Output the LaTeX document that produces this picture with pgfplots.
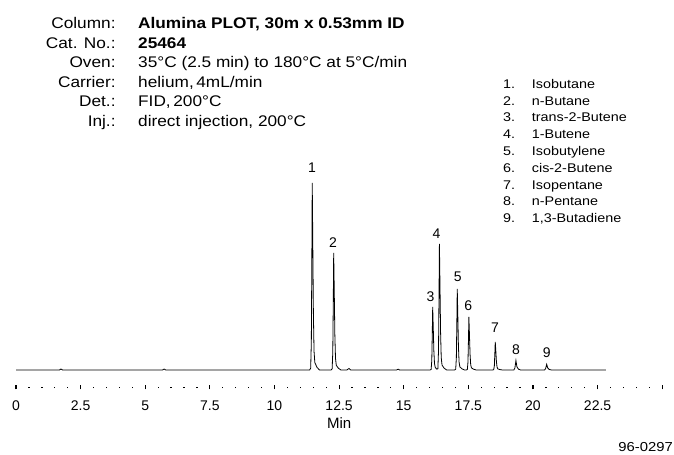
\documentclass[border=0pt]{standalone}
\usepackage{fontspec}
\setmainfont{Liberation Sans}
\newfontfamily\widefont[FakeStretch=1.12]{Liberation Sans}
\newfontfamily\legendfont[FakeStretch=1.14]{Liberation Sans}
\usepackage{pgfplots}
\pgfplotsset{compat=1.18}

\begin{document}
\begin{tikzpicture}
\begin{axis}[
    x=25.85pt, y=1pt,
    xmin=0, xmax=25, ymin=-17.5, ymax=200,
    axis x line*=bottom, axis y line=none,
    x axis line style={draw=none},
    xtick={0,2.5,...,25},
    xticklabels={0,2.5,5,7.5,10,12.5,15,17.5,20,22.5,},
    minor x tick num=4,
    tick align=center,
    major tick length=4pt, minor tick length=1.3pt,
    major tick style={black, line width=1.1pt},
    minor tick style={black, line width=1.3pt},
    xticklabel style={font=\fontsize{14}{16}\selectfont, anchor=north, inner sep=0pt, yshift=-11pt},
    xlabel={Min},
    xlabel style={at={(axis cs:12.5,-53)}, anchor=center, font=\fontsize{15}{17}\selectfont},
    clip=false,
  ]
  % chromatogram trace (y in detector units above baseline)
  \addplot[black, line width=0.8pt, mark=none] coordinates {
    (0,0) (1.68,0) (1.74,1) (1.80,0)
    (5.67,0) (5.73,1) (5.79,0)
    (11.36,0) (11.40,1.9) (11.425,28) (11.445,112) (11.46,187) (11.48,131) (11.505,56) (11.53,18.7) (11.56,7.5) (11.64,2.8) (11.74,0)
    (12.19,0) (12.23,1.2) (12.255,17.6) (12.275,70) (12.29,117) (12.31,82) (12.335,35) (12.36,11.7) (12.39,4.7) (12.47,1.8) (12.57,0)
    (12.80,0) (12.88,1.5) (12.95,0)
    (14.72,0) (14.78,0.8) (14.84,0)
    (16.02,0) (16.06,0.6) (16.085,9.5) (16.105,38) (16.12,63) (16.14,44) (16.165,19) (16.19,6.3) (16.22,2.5)
    (16.28,0.8) (16.32,1.3) (16.345,19) (16.365,76) (16.38,126) (16.40,88) (16.425,38) (16.45,12.6) (16.48,5) (16.56,1.9) (16.66,0)
    (16.97,0) (17.01,0.8) (17.035,12) (17.055,49) (17.07,81) (17.09,57) (17.115,24) (17.14,8.1) (17.17,3.2) (17.25,1.2) (17.35,0)
    (17.42,0) (17.46,0.5) (17.485,8) (17.505,32) (17.52,53) (17.54,37) (17.565,16) (17.59,5.3) (17.62,2.1) (17.70,0.8) (17.80,0)
    (18.44,0) (18.48,0.3) (18.505,4.2) (18.525,17) (18.54,28) (18.56,20) (18.585,8.4) (18.61,2.8) (18.64,1.1) (18.72,0.4) (18.82,0)
    (19.26,0) (19.30,2) (19.34,9.5) (19.38,3) (19.44,0.8) (19.52,0)
    (20.45,0) (20.49,1.5) (20.53,5.7) (20.57,2) (20.63,0.5) (20.72,0)
    (22.82,0)
  };
  % peak numbers
  \addplot[draw=none, mark=none, nodes near coords, point meta=explicit symbolic,
    every node near coord/.append style={anchor=south, inner sep=0pt, font=\fontsize{14}{16}\selectfont}]
    table[meta=lab] {
    t     y     lab
    11.45 197   1
    12.26 122   2
    16.04 68.3  3
    16.27 131   4
    17.09 87.7  5
    17.50 59.3  6
    18.53 37.3  7
    19.34 15    8
    20.53 12.3  9
  };
  % conditions
  \begin{scope}[every node/.style={inner sep=0pt, font=\widefont\fontsize{15.4}{17}\selectfont}]
    \node[anchor=base east] at (axis cs:3.86,341) {Column:};
    \node[anchor=base east] at (axis cs:3.86,321.5) {Cat. No.:};
    \node[anchor=base east] at (axis cs:3.86,302) {Oven:};
    \node[anchor=base east] at (axis cs:3.86,282.5) {Carrier:};
    \node[anchor=base east] at (axis cs:3.86,263) {Det.:};
    \node[anchor=base east] at (axis cs:3.86,243.5) {Inj.:};
    \node[anchor=base west] at (axis cs:4.72,341) {\bfseries Alumina PLOT, 30m x 0.53mm ID};
    \node[anchor=base west] at (axis cs:4.72,321.5) {\bfseries 25464};
    \node[anchor=base west] at (axis cs:4.72,302) {35°C (2.5 min) to 180°C at 5°C/min};
    \node[anchor=base west] at (axis cs:4.72,282.5) {helium,\thinspace 4mL/min};
    \node[anchor=base west] at (axis cs:4.72,263) {FID,\thinspace 200°C};
    \node[anchor=base west] at (axis cs:4.72,243.5) {direct injection, 200°C};
  \end{scope}
  % compound list
  \begin{scope}[every node/.style={inner sep=0pt, anchor=base west, font=\legendfont\fontsize{12.6}{14}\selectfont}]
    \node at (axis cs:18.84,281.7) {1.}; \node at (axis cs:19.95,281.7) {Isobutane};
    \node at (axis cs:18.84,264.9) {2.}; \node at (axis cs:19.95,264.9) {n-Butane};
    \node at (axis cs:18.84,248.1) {3.}; \node at (axis cs:19.95,248.1) {trans-2-Butene};
    \node at (axis cs:18.84,231.3) {4.}; \node at (axis cs:19.95,231.3) {1-Butene};
    \node at (axis cs:18.84,214.5) {5.}; \node at (axis cs:19.95,214.5) {Isobutylene};
    \node at (axis cs:18.84,197.7) {6.}; \node at (axis cs:19.95,197.7) {cis-2-Butene};
    \node at (axis cs:18.84,180.9) {7.}; \node at (axis cs:19.95,180.9) {Isopentane};
    \node at (axis cs:18.84,164.1) {8.}; \node at (axis cs:19.95,164.1) {n-Pentane};
    \node at (axis cs:18.84,147.3) {9.}; \node at (axis cs:19.95,147.3) {1,3-Butadiene};
  \end{scope}
  \node[anchor=base east, inner sep=0pt, font=\legendfont\fontsize{13}{15}\selectfont] at (axis cs:25.416,-82) {96-0297};
  \coordinate (bbA) at (axis cs:-0.619,370);
  \coordinate (bbB) at (axis cs:25.455,-85);
\end{axis}
\pgfresetboundingbox
\path[use as bounding box] (bbA) rectangle (bbB);
\end{tikzpicture}
\end{document}
